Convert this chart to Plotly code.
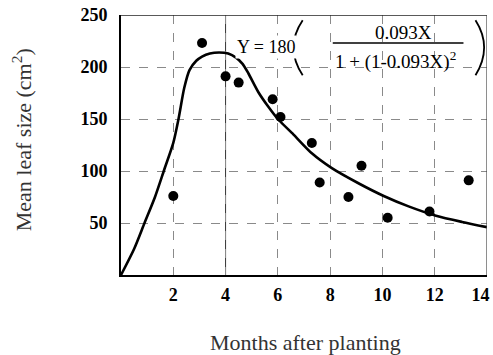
import plotly.graph_objects as go

# Observed data points (months, mean leaf size cm^2)
obs_x = [2.0, 3.1, 4.0, 4.5, 5.8, 6.1, 7.3, 7.6, 8.7, 9.2, 10.2, 11.8, 13.3]
obs_y = [76, 223, 191, 185, 169, 152, 127, 89, 75, 105, 55, 61, 91]

# Fitted curve
fit_x = [0, 0.5, 0.9, 1.3, 1.65, 2.0, 2.2, 2.42, 2.62, 2.88, 3.1, 3.4, 3.75, 4.1, 4.4, 4.65, 4.87,
         5.25, 5.63, 6.0, 6.6, 7.3, 8.05, 9.1, 10.05, 11.0, 12.05, 13.05, 14.0]
fit_y = [0, 25, 50, 75, 101, 127, 150, 180, 197, 206, 210, 213, 214, 213, 209, 203, 194,
         176, 162, 150, 135, 117, 103, 88, 76, 66, 57, 51, 46]

x_ticks = [2, 4, 6, 8, 10, 12, 14]
x_labels = ["2", "4", "6", "8", "10", "12", ""]
# the last label sits slightly left of its gridline in the reference
last_tick_pos = [13.75]
last_tick_label = ["14"]
y_ticks = [50, 100, 150, 200, 250]
y_labels = ["50", "100", "150", "200", "250"]

serif = "Liberation Serif, Times New Roman, serif"
tickfont = dict(family=serif, size=18, color="black", weight="bold")

fig = go.Figure()
fig.add_trace(go.Scatter(x=fit_x, y=fit_y, mode="lines",
                         line=dict(color="black", width=2.6, shape="spline", smoothing=0.7),
                         hoverinfo="skip", showlegend=False))
fig.add_trace(go.Scatter(x=obs_x, y=obs_y, mode="markers",
                         marker=dict(color="black", size=10),
                         showlegend=False))
fig.add_trace(go.Scatter(x=[], y=[], xaxis="x2", yaxis="y", mode="markers",
                         showlegend=False, hoverinfo="skip"))

fig.update_layout(
    width=493, height=355,
    margin=dict(l=121, r=6, t=15, b=80),
    paper_bgcolor="white", plot_bgcolor="white",
    font=dict(family=serif, color="black"),
    xaxis=dict(range=[0, 14], tickvals=x_ticks, ticktext=x_labels,
               showgrid=True, gridcolor="#8a8a8a", griddash="dash", gridwidth=1,
               showline=True, linecolor="black", linewidth=2, zeroline=False,
               ticks="", ticklabeloverflow="allow", ticklabelstandoff=2, automargin=False,
               tickfont=tickfont),
    xaxis2=dict(range=[0, 14], overlaying="x", side="bottom", tickvals=last_tick_pos,
                ticktext=last_tick_label, showgrid=False, showline=False, zeroline=False,
                ticks="", ticklabeloverflow="allow", ticklabelstandoff=7, automargin=False,
                tickfont=tickfont),
    yaxis=dict(range=[0, 250], tickvals=y_ticks, ticktext=y_labels,
               showgrid=True, gridcolor="#8a8a8a", griddash="dash", gridwidth=1,
               showline=True, linecolor="black", linewidth=2, zeroline=False,
               ticks="", ticklabeloverflow="allow", ticklabelstandoff=8, automargin=False,
               tickfont=tickfont),
)

# axis titles
fig.add_annotation(text="Months after planting", xref="paper", yref="paper",
                   x=0.503, y=-0.258, showarrow=False, xanchor="center", yanchor="middle",
                   font=dict(family=serif, size=22, color="#333"))
fig.add_annotation(text="Mean leaf size (cm<sup>2</sup>)", xref="paper", yref="paper",
                   x=-0.27, y=0.519, showarrow=False, textangle=-90,
                   xanchor="center", yanchor="middle",
                   font=dict(family=serif, size=22, color="#333"))

# frame lines at the top and right, solid line at x=4
fig.add_shape(type="line", x0=0, x1=14, y0=250, y1=250, xref="x", yref="y",
              line=dict(color="#222", width=1.5))
fig.add_shape(type="line", x0=14, x1=14, y0=0, y1=250, xref="x", yref="y",
              line=dict(color="#444", width=1.2))
fig.add_shape(type="line", x0=4, x1=4, y0=0, y1=250, xref="x", yref="y",
              line=dict(color="#333", width=1), layer="below")

# Equation
fig.add_annotation(x=5.56, y=219, text="Y = 180", showarrow=False, xref="x", yref="y",
                   font=dict(family=serif, size=18, color="black"), bgcolor="white")
fig.add_annotation(x=10.8, y=233, text="0.093X", showarrow=False, xref="x", yref="y",
                   font=dict(family=serif, size=19, color="black"))
fig.add_annotation(x=10.5, y=206, text="1 + (1-0.093X)<sup>2</sup>", showarrow=False, xref="x", yref="y",
                   font=dict(family=serif, size=19, color="black"))
fig.add_shape(type="line", x0=8.1, x1=13.1, y0=223, y1=223, xref="x", yref="y",
              line=dict(color="black", width=1.5))
# tall thin parentheses
fig.add_shape(type="path", path="M 6.95,245 Q 6.25,219 6.95,192", xref="x", yref="y",
              line=dict(color="black", width=1.8))
fig.add_shape(type="path", path="M 13.56,245 Q 14.22,219 13.56,192", xref="x", yref="y",
              line=dict(color="black", width=1.8))

fig.write_html("out.html")
